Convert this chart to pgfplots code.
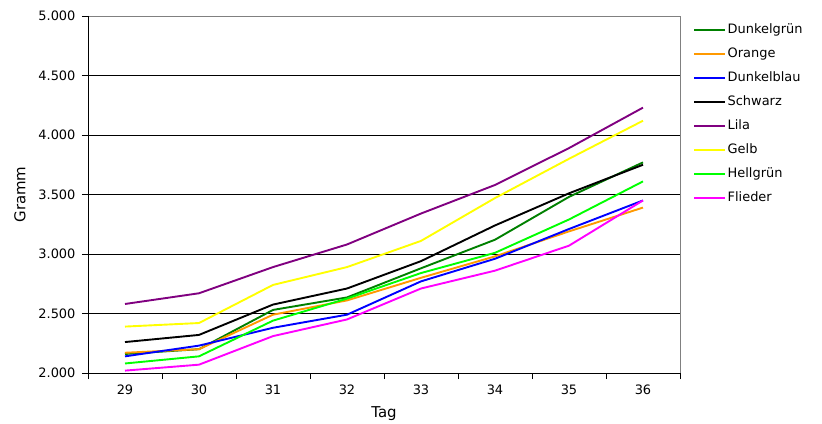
\documentclass[border=0pt]{standalone}
\usepackage{fontspec}
\setmainfont{DejaVu Sans}
\usepackage{pgfplots}
\pgfplotsset{compat=1.18}
\definecolor{dgruen}{RGB}{0,128,0}
\definecolor{orng}{RGB}{255,153,0}
\definecolor{dblau}{RGB}{0,0,255}
\definecolor{lila}{RGB}{128,0,128}
\definecolor{gelb}{RGB}{255,255,0}
\definecolor{hgruen}{RGB}{0,255,0}
\definecolor{flieder}{RGB}{255,0,255}
\definecolor{rahmen}{RGB}{128,128,128}
\begin{document}
\begin{tikzpicture}
\begin{axis}[
  at={(0,0)}, anchor=south west,
  scale only axis, width=592bp, height=357bp,
  xmin=28.5, xmax=36.5, ymin=2000, ymax=5000,
  xtick={28.5,29.5,...,36.5}, xticklabels={},
  extra x ticks={29,30,31,32,33,34,35,36},
  extra x tick labels={29,30,31,32,33,34,35,36},
  extra x tick style={major tick length=0pt, grid=none},
  ytick={2000,2500,...,5000},
  yticklabels={2.000,2.500,3.000,3.500,4.000,4.500,5.000},
  scaled y ticks=false,
  tick pos=left,
  tick align=outside,
  major tick length=6bp,
  tick style={black, line width=0.8bp},
  axis line style={draw=none},
  ymajorgrids, grid style={black, line width=0.8bp},
  ticklabel style={font=\fontsize{13}{15}\selectfont},
  xticklabel style={yshift=-8bp},
  yticklabel style={xshift=-3bp},
  /pgf/number format/assume math mode=true,
  xlabel={Tag}, ylabel={Gramm},
  xlabel shift=-1bp, ylabel shift=6bp,
  label style={font=\fontsize{15}{18}\selectfont},
  legend cell align=left,
  legend style={at={(1.017,0.99)}, anchor=north west, draw=none, fill=none,
    font=\fontsize{13}{15}\selectfont, row sep=8bp,
    nodes={text height=10bp, text depth=3bp, inner sep=1.5bp}},
  legend image code/.code={\draw[#1] (0bp,0bp) -- (31bp,0bp);},
  every axis plot/.append style={line width=1.9bp, line join=round},
  after end axis/.code={
    \draw[rahmen, line width=0.8bp] (rel axis cs:0,1) -- (rel axis cs:1,1) -- (rel axis cs:1,0);
    \draw[black, line width=0.8bp] (rel axis cs:0,1) -- (rel axis cs:0,0) -- (rel axis cs:1,0);
  },
]
\addplot[dgruen] coordinates {(29,2160) (30,2200) (31,2530) (32,2635) (33,2880) (34,3120) (35,3480) (36,3770)};
\addlegendentry{Dunkelgrün}
\addplot[orng] coordinates {(29,2170) (30,2200) (31,2490) (32,2610) (33,2800) (34,2980) (35,3190) (36,3390)};
\addlegendentry{Orange}
\addplot[dblau] coordinates {(29,2140) (30,2230) (31,2380) (32,2490) (33,2770) (34,2960) (35,3210) (36,3450)};
\addlegendentry{Dunkelblau}
\addplot[black] coordinates {(29,2260) (30,2320) (31,2575) (32,2710) (33,2940) (34,3240) (35,3510) (36,3750)};
\addlegendentry{Schwarz}
\addplot[lila] coordinates {(29,2580) (30,2670) (31,2890) (32,3080) (33,3340) (34,3580) (35,3890) (36,4230)};
\addlegendentry{Lila}
\addplot[gelb] coordinates {(29,2390) (30,2420) (31,2740) (32,2890) (33,3110) (34,3470) (35,3800) (36,4120)};
\addlegendentry{Gelb}
\addplot[hgruen] coordinates {(29,2080) (30,2140) (31,2440) (32,2625) (33,2840) (34,3010) (35,3290) (36,3610)};
\addlegendentry{Hellgrün}
\addplot[flieder] coordinates {(29,2020) (30,2070) (31,2310) (32,2450) (33,2710) (34,2860) (35,3070) (36,3450)};
\addlegendentry{Flieder}
\end{axis}
\pgfresetboundingbox
\path (-88bp,-51bp) rectangle (734bp,373bp);
\end{tikzpicture}
\end{document}
